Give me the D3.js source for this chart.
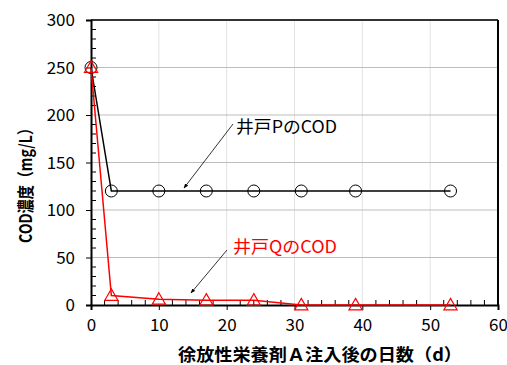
<!DOCTYPE html>
<html>
<head>
<script src="https://d3js.org/d3.v7.min.js"></script>
<style>
  body { margin: 0; background: #fff; }
  text { font-family: "Noto Sans CJK JP", "Noto Sans", sans-serif; }
  .tick text { font-size: 17px; fill: #000; }
</style>
</head>
<body>
<script>
var days = [0, 3, 10, 17, 24, 31, 39, 53];
var codP = [250, 120, 120, 120, 120, 120, 120, 120];
var codQ = [250, 10, 6, 5, 5, 0, 0, 0];
var xTicks = [0, 10, 20, 30, 40, 50, 60];
var yTicks = [0, 50, 100, 150, 200, 250, 300];

var width = 507, height = 365;
var margin = { left: 91, right: 9, top: 20, bottom: 60 };

var svg = d3.select("body").append("svg")
    .attr("width", width)
    .attr("height", height);

var x = d3.scaleLinear().domain([0, 60]).range([margin.left, width - margin.right]);
var y = d3.scaleLinear().domain([0, 300]).range([height - margin.bottom, margin.top]);

// grid
svg.append("g").selectAll("line")
    .data(xTicks.slice(1, -1))
    .enter().append("line")
    .attr("x1", d => x(d)).attr("x2", d => x(d))
    .attr("y1", y(0)).attr("y2", y(300))
    .attr("stroke", "#e2e2e2").attr("stroke-width", 1);

svg.append("g").selectAll("line")
    .data(yTicks.slice(1, -1))
    .enter().append("line")
    .attr("x1", x(0)).attr("x2", x(60))
    .attr("y1", d => y(d)).attr("y2", d => y(d))
    .attr("stroke", "#bdbdbd").attr("stroke-width", 1);

// frame: top and right
svg.append("line")
    .attr("x1", x(0)).attr("x2", x(60)).attr("y1", y(300)).attr("y2", y(300))
    .attr("stroke", "#333").attr("stroke-width", 2);
svg.append("line")
    .attr("x1", x(60)).attr("x2", x(60)).attr("y1", y(300)).attr("y2", y(0))
    .attr("stroke", "#000").attr("stroke-width", 2);

// minor ticks (inside)
svg.append("g").selectAll("line")
    .data(d3.range(0, 301, 10).filter(d => d % 50 !== 0))
    .enter().append("line")
    .attr("x1", x(0)).attr("x2", x(0) + 5)
    .attr("y1", d => y(d)).attr("y2", d => y(d))
    .attr("stroke", "#000");

svg.append("g").selectAll("line")
    .data(d3.range(0, 61, 2).filter(d => d % 10 !== 0))
    .enter().append("line")
    .attr("x1", d => x(d)).attr("x2", d => x(d))
    .attr("y1", y(0)).attr("y2", y(0) - 5)
    .attr("stroke", "#000");

// axes
var xAxis = svg.append("g")
    .attr("transform", "translate(0," + y(0) + ")")
    .call(d3.axisBottom(x).tickValues(xTicks).tickSize(5).tickPadding(9));
var yAxis = svg.append("g")
    .attr("transform", "translate(" + x(0) + ",0)")
    .call(d3.axisLeft(y).tickValues(yTicks).tickSize(5).tickPadding(11));

[xAxis, yAxis].forEach(function (a) {
    a.select(".domain").attr("stroke", "#000").attr("stroke-width", 2);
    a.selectAll(".tick line").attr("stroke", "#000");
});
yAxis.selectAll(".tick text").attr("dy", "0.35em");

// series
var line = d3.line()
    .x(d => x(d[0]))
    .y(d => y(d[1]));

var pData = days.map((d, i) => [d, codP[i]]);
var qData = days.map((d, i) => [d, codQ[i]]);

svg.append("path").datum(pData)
    .attr("d", line).attr("fill", "none")
    .attr("stroke", "#000").attr("stroke-width", 1.5);

svg.append("path").datum(qData)
    .attr("d", line).attr("fill", "none")
    .attr("stroke", "#ff0000").attr("stroke-width", 1.5);

svg.append("g").selectAll("circle")
    .data(pData)
    .enter().append("circle")
    .attr("cx", d => x(d[0])).attr("cy", d => y(d[1]))
    .attr("r", 6)
    .attr("fill", "none").attr("stroke", "#000").attr("stroke-width", 1);

var tri = d3.symbol().type(d3.symbolTriangle).size(75);
svg.append("g").selectAll("path")
    .data(qData)
    .enter().append("path")
    .attr("d", tri)
    .attr("transform", d => "translate(" + x(d[0]) + "," + (y(d[1]) + 1) + ")")
    .attr("fill", "none").attr("stroke", "#ff0000").attr("stroke-width", 1.2);

// annotations
svg.append("defs").append("marker")
    .attr("id", "arr")
    .attr("viewBox", "0 0 10 10")
    .attr("refX", 9).attr("refY", 5)
    .attr("markerWidth", 6).attr("markerHeight", 6)
    .attr("orient", "auto")
    .append("path").attr("d", "M0,1L10,5L0,9z").attr("fill", "#000");

svg.append("line")
    .attr("x1", 233).attr("y1", 124).attr("x2", 184).attr("y2", 188)
    .attr("stroke", "#000").attr("stroke-width", 0.8)
    .attr("marker-end", "url(#arr)");
svg.append("text")
    .attr("x", 236).attr("y", 133)
    .attr("font-size", 17).attr("fill", "#000")
    .attr("textLength", 101).attr("lengthAdjust", "spacingAndGlyphs")
    .text("井戸PのCOD");

svg.append("line")
    .attr("x1", 227).attr("y1", 250).attr("x2", 191).attr("y2", 293)
    .attr("stroke", "#000").attr("stroke-width", 0.8)
    .attr("marker-end", "url(#arr)");
svg.append("text")
    .attr("x", 233).attr("y", 253)
    .attr("font-size", 17).attr("fill", "#ff0000")
    .attr("textLength", 104).attr("lengthAdjust", "spacingAndGlyphs")
    .text("井戸QのCOD");

// axis titles
svg.append("text")
    .attr("x", 320).attr("y", 361)
    .attr("text-anchor", "middle")
    .attr("font-size", 17).attr("font-weight", "bold")
    .attr("textLength", 284).attr("lengthAdjust", "spacingAndGlyphs")
    .text("徐放性栄養剤Ａ注入後の日数（d）");

svg.append("text")
    .attr("transform", "translate(32,182) rotate(-90)")
    .attr("text-anchor", "middle")
    .attr("font-size", 17).attr("font-weight", "bold")
    .attr("textLength", 122).attr("lengthAdjust", "spacingAndGlyphs")
    .text("COD濃度（mg/L）");
</script>
</body>
</html>
